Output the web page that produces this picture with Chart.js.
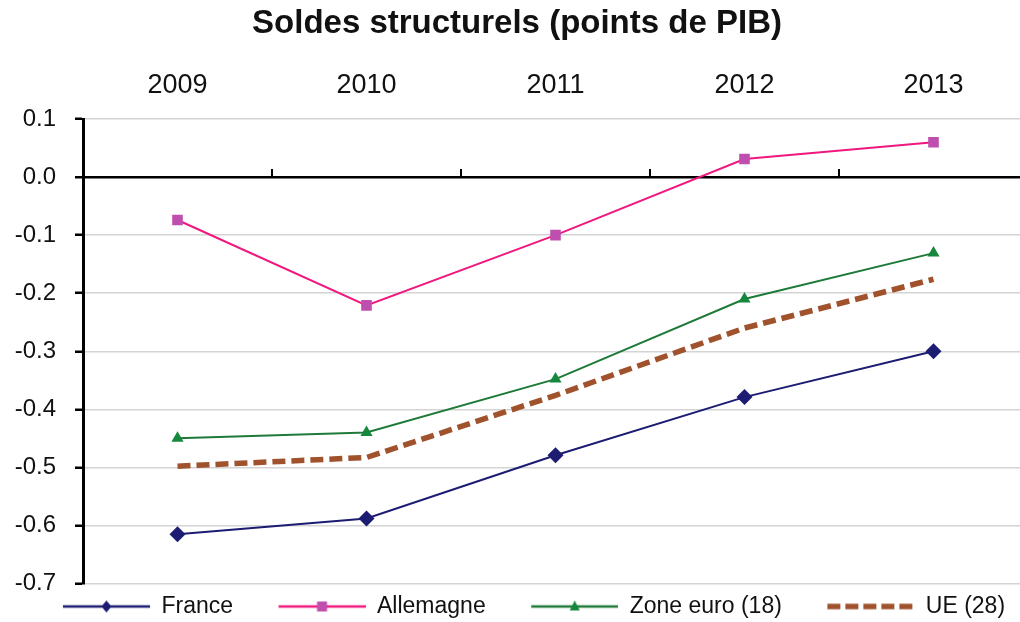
<!DOCTYPE html>
<html>
<head>
<meta charset="utf-8">
<script src="https://cdn.jsdelivr.net/npm/chart.js@4"></script>
<style>
html, body { margin: 0; padding: 0; background: #fff; overflow: hidden; }
#wrap { width: 1036px; height: 622px; }
</style>
</head>
<body>
<div id="wrap"><canvas id="chart" width="1036" height="622"></canvas></div>
<script>
const years = ['2009', '2010', '2011', '2012', '2013'];
const france = [-0.615, -0.588, -0.479, -0.379, -0.300];
const allemagne = [-0.074, -0.221, -0.100, 0.031, 0.060];
const zoneEuro = [-0.450, -0.440, -0.348, -0.210, -0.131];
const ue = [-0.498, -0.483, -0.376, -0.260, -0.176];
const seriesNames = ['France', 'Allemagne', 'Zone euro (18)', 'UE (28)'];

const FONT = "'Liberation Sans', Arial, sans-serif";

// legend swatch: line with marker in the middle, blank space on the left as gap
function legendImage(color, lineWidth, dash, marker, markerColor) {
    const c = document.createElement('canvas');
    c.width = 121;
    c.height = 20;
    const g = c.getContext('2d');
    g.strokeStyle = color;
    g.lineWidth = lineWidth;
    g.setLineDash(dash);
    g.beginPath();
    g.moveTo(34, 10);
    g.lineTo(121, 10);
    g.stroke();
    const cx = 77.5, cy = 10;
    g.fillStyle = markerColor;
    g.beginPath();
    if (marker === 'diamond') {
        g.moveTo(cx, cy - 6); g.lineTo(cx + 5, cy); g.lineTo(cx, cy + 6); g.lineTo(cx - 5, cy);
    } else if (marker === 'square') {
        g.rect(cx - 5, cy - 5, 10, 10);
    } else if (marker === 'triangle') {
        g.moveTo(cx, cy - 6); g.lineTo(cx + 5, cy + 4); g.lineTo(cx - 5, cy + 4);
    }
    g.fill();
    return c;
}

const legendImages = [
    legendImage('#1c1c73', 2.5, [], 'diamond', '#1c1c73'),
    legendImage('#f0187f', 2.5, [], 'square', '#bf4fae'),
    legendImage('#1e7a38', 2.5, [], 'triangle', '#16883e'),
    legendImage('#a0522d', 5.5, [13, 5], null, '#a0522d')
];

const zeroTicks = {
    id: 'zeroTicks',
    beforeDatasetsDraw(chart) {
        const { ctx, scales: { x, y } } = chart;
        const y0 = y.getPixelForValue(0);
        ctx.save();
        ctx.strokeStyle = '#000';
        ctx.lineWidth = 2;
        for (let i = 1; i < years.length; i++) {
            const px = Math.round((x.getPixelForValue(i - 1) + x.getPixelForValue(i)) / 2);
            ctx.beginPath();
            ctx.moveTo(px, y0);
            ctx.lineTo(px, y0 - 8);
            ctx.stroke();
        }
        ctx.restore();
    }
};

const isZero = v => Math.abs(v) < 1e-9;

const chart = new Chart(document.getElementById('chart'), {
    type: 'line',
    data: {
        labels: years,
        datasets: [
            {
                label: seriesNames[0], data: france,
                borderColor: '#1c1c73', borderWidth: 2,
                pointStyle: 'rectRot', pointRadius: 8, pointBackgroundColor: '#1c1c73', pointBorderWidth: 0
            },
            {
                label: seriesNames[1], data: allemagne,
                borderColor: '#f0187f', borderWidth: 2,
                pointStyle: 'rect', pointRadius: 7.5, pointBackgroundColor: '#bf4fae', pointBorderWidth: 0
            },
            {
                label: seriesNames[2], data: zoneEuro,
                borderColor: '#1e7a38', borderWidth: 2,
                pointStyle: 'triangle', pointRadius: 7, pointBackgroundColor: '#16883e', pointBorderWidth: 0
            },
            {
                label: seriesNames[3], data: ue,
                borderColor: '#a0522d', borderWidth: 5.5, borderDash: [13, 6],
                pointRadius: 0
            }
        ]
    },
    options: {
        responsive: false,
        animation: false,
        layout: { padding: { left: 0, right: 2, top: 0, bottom: -6 } },
        scales: {
            x: {
                position: 'top',
                offset: true,
                afterFit: (scale) => { scale.height += 9; },
                grid: { display: false, drawTicks: false },
                border: { display: false },
                ticks: { color: '#111', font: { family: FONT, size: 27 }, padding: 17, maxRotation: 0 }
            },
            y: {
                min: -0.7,
                max: 0.1,
                afterFit: (scale) => { scale.width = 83; },
                ticks: {
                    stepSize: 0.1,
                    color: '#111',
                    font: { family: FONT, size: 24 },
                    padding: 19,
                    callback: (v) => isZero(v) ? '0.0' : Number(v).toFixed(1)
                },
                grid: {
                    color: (ctx) => isZero(ctx.tick.value) ? '#000' : '#d4d4d4',
                    lineWidth: (ctx) => isZero(ctx.tick.value) ? 2.5 : 1.5,
                    tickColor: '#000',
                    tickLength: 8,
                    tickWidth: 2.5
                },
                border: { display: true, color: '#000', width: 3 }
            }
        },
        plugins: {
            title: {
                display: true,
                text: 'Soldes structurels (points de PIB)',
                color: '#111',
                font: { family: FONT, size: 33, weight: 'bold' },
                padding: { top: 4, bottom: 0 }
            },
            legend: {
                position: 'bottom',
                labels: {
                    color: '#111',
                    font: { family: FONT, size: 23 },
                    usePointStyle: true,
                    pointStyleWidth: 121,
                    padding: 11.5,
                    generateLabels: (ch) => seriesNames.map((name, i) => ({
                        text: name,
                        pointStyle: legendImages[i],
                        datasetIndex: i,
                        fontColor: '#111',
                        lineWidth: 0,
                        hidden: false
                    }))
                }
            },
            tooltip: { enabled: false }
        }
    },
    plugins: [zeroTicks]
});
</script>
</body>
</html>
